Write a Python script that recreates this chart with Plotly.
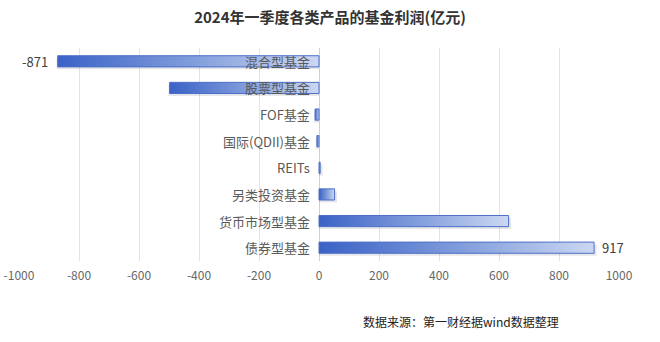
import plotly.graph_objects as go

categories = ["混合型基金", "股票型基金", "FOF基金", "国际(QDII)基金", "REITs", "另类投资基金", "货币市场型基金", "债券型基金"]
profits = [-871, -498, -13, -7, 4, 52, 632, 917]
x_ticks = [-1000, -800, -600, -400, -200, 0, 200, 400, 600, 800, 1000]
shown_labels = {0: "-871", 7: "917"}

half = 0.21
fig = go.Figure()

# shadows
for i, v in enumerate(profits):
    dx = 8 if v >= 0 else -4
    fig.add_trace(go.Scatter(
        x=[0, v + dx, v + dx, 0, 0],
        y=[i - half + 0.09, i - half + 0.09, i + half + 0.09, i + half + 0.09, i - half + 0.09],
        fill="toself", fillcolor="rgba(60,70,100,0.13)", line=dict(width=0),
        mode="lines", hoverinfo="skip", showlegend=False))

for i, v in enumerate(profits):
    fig.add_trace(go.Scatter(
        x=[0, v, v, 0, 0],
        y=[i - half, i - half, i + half, i + half, i - half],
        fill="toself",
        fillgradient=dict(type="horizontal", colorscale=[[0, "#3a62c6"], [0.5, "#7f9bdb"], [1, "#cbd8f1"]]),
        line=dict(color="#4d6fc6", width=1),
        mode="lines", showlegend=False, name=categories[i]))

annotations = []
for i, c in enumerate(categories):
    annotations.append(dict(x=0, y=i, xref="x", yref="y", text=c, showarrow=False,
                            xanchor="right", xshift=-7,
                            font=dict(size=13, color="#595959", family="Noto Sans CJK SC")))
for i, t in shown_labels.items():
    v = profits[i]
    annotations.append(dict(x=v, y=i, xref="x", yref="y", text=t, showarrow=False,
                            xanchor="left" if v >= 0 else "right", xshift=6 if v >= 0 else -8,
                            font=dict(size=13, color="#404040", family="Noto Sans CJK SC")))
annotations.append(dict(x=0.737, y=-0.286, xref="paper", yref="paper", xanchor="center", yanchor="middle",
                        text="数据来源：第一财经据wind数据整理", showarrow=False,
                        font=dict(size=12, color="#222222", family="Noto Sans CJK SC")))

fig.update_layout(
    width=660, height=342,
    margin=dict(l=19, r=41, t=48, b=81),
    paper_bgcolor="white", plot_bgcolor="white",
    title=dict(text="<b>2024年一季度各类产品的基金利润(亿元)</b>", x=0.5, xanchor="center", y=0.947, yanchor="middle",
               font=dict(size=15, color="#333333", family="Noto Sans CJK SC")),
    xaxis=dict(range=[-1000, 1000], tickvals=x_ticks, ticktext=[str(t) for t in x_ticks],
               automargin=False,
               showgrid=True, gridcolor="#e3e3e3", gridwidth=1, zeroline=True, zerolinecolor="#d0d0d0",
               zerolinewidth=1, showline=False, ticks="outside", ticklen=4, tickcolor="rgba(0,0,0,0)",
               tickfont=dict(size=12, color="#666666", family="Noto Sans CJK SC")),
    yaxis=dict(range=[7.5, -0.5], showticklabels=False, showgrid=False, zeroline=False, ticks="",
               automargin=False),
    annotations=annotations,
)

fig.write_html("out.html")
